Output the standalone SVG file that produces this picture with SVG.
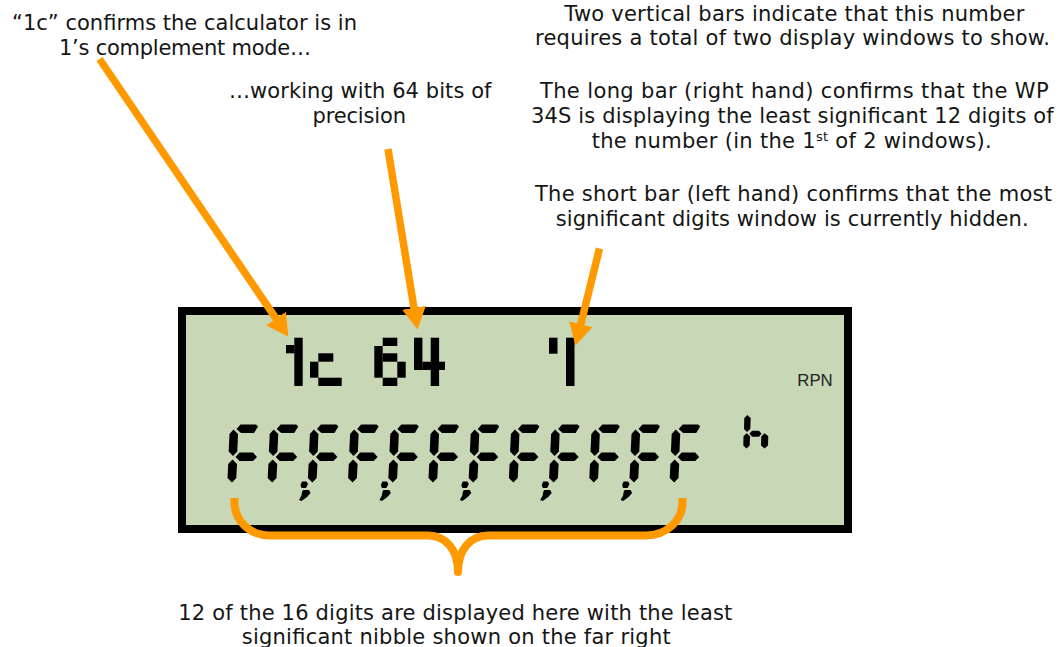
<svg xmlns="http://www.w3.org/2000/svg" xmlns:xlink="http://www.w3.org/1999/xlink" width="1060" height="647" viewBox="0 0 1060 647">
<style>
  .t{font-family:"DejaVu Sans","Verdana",sans-serif;font-size:21px;fill:#151515}
  .seg{fill:#000}
  .arrow{stroke:#ff9900;stroke-width:7.5;fill:none}
  .brace{stroke:#ff9900;stroke-width:8;fill:none;stroke-linejoin:round;stroke-linecap:butt}
</style>
<defs>
  <marker id="ah" markerUnits="userSpaceOnUse" viewBox="0 0 22 24" markerWidth="22" markerHeight="24" refX="2" refY="12" orient="auto">
    <path d="M0,0 L22,12 L0,24 z" fill="#ff9900"/>
  </marker>
  <g id="F" class="seg">
    <polygon points="9.5,5 13.5,0.5 29,0.5 31,2.5 27,9 14,9"/>
    <polygon points="6.5,5.5 11,10 10.3,27.5 6,32 1.7,27.5 2.5,10"/>
    <polygon points="8.5,33 12.5,28.5 26,28.5 30,33 26,37 12.5,37"/>
    <polygon points="5.5,35.5 10,40 9.3,54 5,58.5 0.5,54 1.2,40"/>
  </g>
  <g id="sep" class="seg">
    <polygon points="3,-2.5 7.5,-2.5 9,0 7,4 2.5,4 1.5,1"/>
    <polygon points="4,6 10,6 11.5,9 8,13 2.5,17 0,16 2.5,11.5 3,8"/>
  </g>
</defs>
<rect width="1060" height="647" fill="#ffffff"/>

<g id="lcd">
  <rect x="182" y="311" width="666" height="218" fill="#c8d7b5" stroke="#000" stroke-width="8"/>
  <g id="status" class="seg">
    <rect x="294.3" y="337.7" width="8.4" height="48.3"/>
    <rect x="286" y="345" width="8.4" height="8.3"/>
    <rect x="318.3" y="353.3" width="15" height="8.4"/>
    <rect x="310" y="361.7" width="8.4" height="16"/>
    <rect x="318.3" y="377.7" width="23.4" height="8.3"/>
    <rect x="382.7" y="337.7" width="14.6" height="8.3"/>
    <rect x="374.3" y="346" width="8.4" height="31.7"/>
    <rect x="382.7" y="353.3" width="14.6" height="8.4"/>
    <rect x="397.3" y="361.7" width="8.4" height="16"/>
    <rect x="382.7" y="377.7" width="14.6" height="8.3"/>
    <rect x="414" y="337.7" width="8.4" height="32.3"/>
    <rect x="430.7" y="337.7" width="8.4" height="48.3"/>
    <rect x="422.3" y="361.7" width="22.7" height="8.3"/>
    <rect x="549" y="337.7" width="8.5" height="16"/>
    <rect x="566" y="337.7" width="8.5" height="48.3"/>
  </g>
  <text x="797.3" y="386" font-family="Liberation Sans, Arial, sans-serif" font-size="17" textLength="35.4" lengthAdjust="spacingAndGlyphs" fill="#222">RPN</text>
  <g id="digits">
    <use xlink:href="#F" href="#F" x="227" y="424"/>
    <use xlink:href="#F" href="#F" x="267.2" y="424"/>
    <use xlink:href="#F" href="#F" x="307.4" y="424"/>
    <use xlink:href="#F" href="#F" x="347.6" y="424"/>
    <use xlink:href="#F" href="#F" x="387.8" y="424"/>
    <use xlink:href="#F" href="#F" x="428" y="424"/>
    <use xlink:href="#F" href="#F" x="468.2" y="424"/>
    <use xlink:href="#F" href="#F" x="508.4" y="424"/>
    <use xlink:href="#F" href="#F" x="548.6" y="424"/>
    <use xlink:href="#F" href="#F" x="588.8" y="424"/>
    <use xlink:href="#F" href="#F" x="629" y="424"/>
    <use xlink:href="#F" href="#F" x="669.2" y="424"/>
    <use xlink:href="#sep" href="#sep" x="299" y="484"/>
    <use xlink:href="#sep" href="#sep" x="379.4" y="484"/>
    <use xlink:href="#sep" href="#sep" x="459.8" y="484"/>
    <use xlink:href="#sep" href="#sep" x="540.2" y="484"/>
    <use xlink:href="#sep" href="#sep" x="620.6" y="484"/>
  </g>
  <g id="hex-h" class="seg">
    <polygon points="747.3,415 750.7,418 750.3,429 747,432 744,429 744.3,418"/>
    <polygon points="746.7,433.3 750,436.3 749.7,445.5 746.5,448.5 743.3,445.5 743.5,436.3"/>
    <polygon points="749.5,433.7 752,430.7 759,430.7 761.5,433.7 759,436.7 752,436.7"/>
    <polygon points="764.7,433.3 768.3,436.3 768,445.5 764.5,448.5 761,445.5 761.3,436.3"/>
  </g>
</g>

<g id="note-mode">
  <text class="t" x="12" y="29.5" textLength="345">“1c” confirms the calculator is in</text>
  <text class="t" x="59" y="55" textLength="252">1’s complement mode…</text>
</g>
<g id="note-bits">
  <text class="t" x="229" y="98" textLength="262.5">…working with 64 bits of</text>
  <text class="t" x="312.5" y="123" textLength="93.5">precision</text>
</g>
<g id="note-bars">
  <text class="t" x="564.3" y="20.5" textLength="460">Two vertical bars indicate that this number</text>
  <text class="t" x="535" y="45" textLength="515">requires a total of two display windows to show.</text>
  <text class="t" x="540" y="98" textLength="508.6">The long bar (right hand) confirms that the WP</text>
  <text class="t" x="531" y="123" textLength="522.7">34S is displaying the least significant 12 digits of</text>
  <text class="t" x="591.7" y="148" textLength="400">the number (in the 1<tspan font-size="13" dy="-7">st</tspan><tspan dy="7"> of 2 windows).</tspan></text>
  <text class="t" x="535" y="201" textLength="517">The short bar (left hand) confirms that the most</text>
  <text class="t" x="555.7" y="225.5" textLength="473">significant digits window is currently hidden.</text>
</g>
<g id="note-digits">
  <text class="t" x="178.3" y="619.5" textLength="554">12 of the 16 digits are displayed here with the least</text>
  <text class="t" x="241.7" y="644" textLength="429">significant nibble shown on the far right</text>
</g>

<g id="connectors">
  <line class="arrow" x1="99.5" y1="59" x2="277.1" y2="320.2" marker-end="url(#ah)"/>
  <line class="arrow" x1="388" y1="149" x2="414.3" y2="309.8" marker-end="url(#ah)"/>
  <line class="arrow" x1="599.5" y1="248.5" x2="580.3" y2="326.1" marker-end="url(#ah)"/>
  <path class="brace" d="M234.5,498 L234.5,502 C234.5,521 250,535.5 270,535.5 L428,535.5 C446,535.5 458,550 458,572 C458,550 470,535.5 488,535.5 L646,535.5 C666,535.5 682.5,521 682.5,502 L682.5,498"/>
</g>
</svg>
